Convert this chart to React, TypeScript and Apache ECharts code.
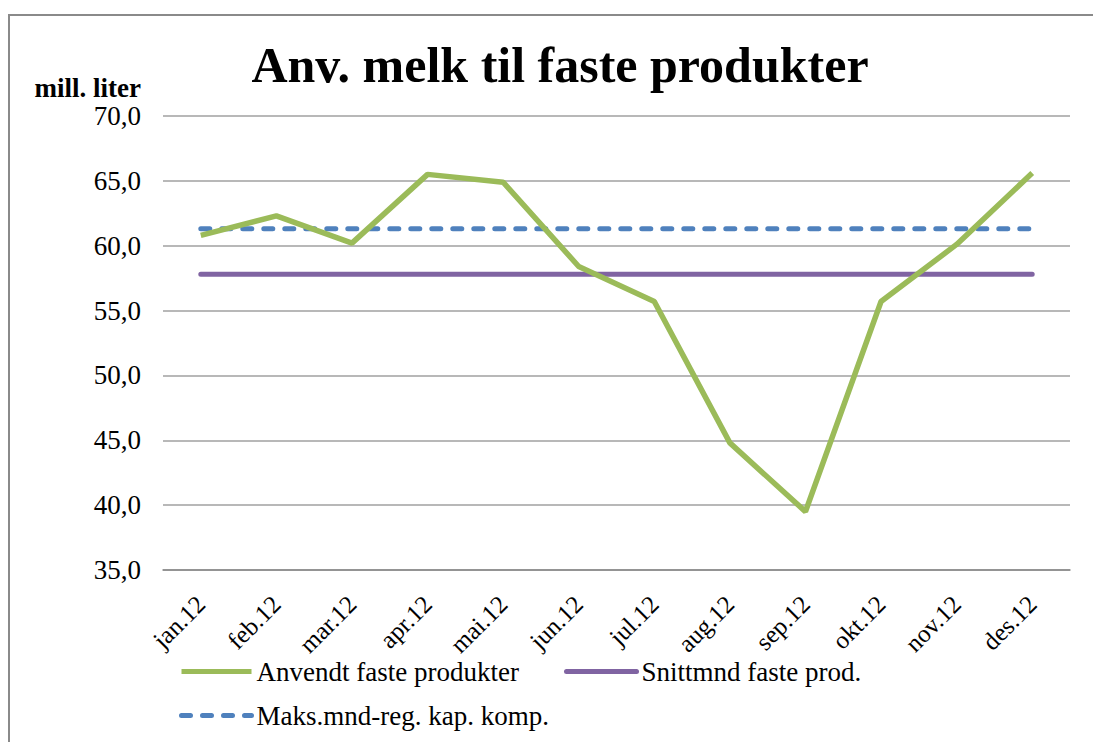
import React, { useEffect, useRef } from "react";
import * as echarts from "echarts";

const CATEGORIES = ["jan.12", "feb.12", "mar.12", "apr.12", "mai.12", "jun.12", "jul.12", "aug.12", "sep.12", "okt.12", "nov.12", "des.12"];
const ANVENDT = [60.8, 62.3, 60.2, 65.5, 64.9, 58.4, 55.7, 44.8, 39.5, 55.7, 60.1, 65.6];
const SNITT = [57.8, 57.8, 57.8, 57.8, 57.8, 57.8, 57.8, 57.8, 57.8, 57.8, 57.8, 57.8];
const MAKS = [61.3, 61.3, 61.3, 61.3, 61.3, 61.3, 61.3, 61.3, 61.3, 61.3, 61.3, 61.3];
const NAMES = ["Anvendt faste produkter", "Snittmnd faste prod.", "Maks.mnd-reg. kap. komp."];
const TITLE = "Anv. melk til faste produkter";
const UNIT = "mill. liter";

const SERIF = "'Liberation Serif', 'Times New Roman', serif";
const GREEN = "#9bbb59";
const PURPLE = "#8064a2";
const BLUE = "#4f81bd";
const DASH = [9, 12];

export default function App() {
  const ref = useRef<HTMLDivElement>(null);
  useEffect(() => {
    if (!ref.current) return;
    const chart = echarts.init(ref.current, undefined, { renderer: "svg" });
    const legendText = { fontFamily: SERIF, fontSize: 27, color: "#000" };
    const legendBase = {
      itemWidth: 70,
      itemHeight: 2,
      itemStyle: { opacity: 0 },
      textStyle: legendText,
    };
    chart.setOption({
      animation: false,
      backgroundColor: "#fff",
      title: {
        text: TITLE,
        left: 555,
        textAlign: "center",
        top: 35,
        textStyle: { fontFamily: SERIF, fontSize: 50, fontWeight: "bold", color: "#000" },
      },
      graphic: [
        {
          type: "rect",
          shape: { x: 1076, y: 16, width: 17, height: 726 },
          style: { fill: "#ffffff" },
          silent: true,
          z: 100,
        },
        {
          type: "rect",
          shape: { x: 8, y: 14, width: 1085, height: 2 },
          style: { fill: "#8a8a8a" },
          silent: true,
          z: 101,
        },
        {
          type: "rect",
          shape: { x: 8, y: 14, width: 2, height: 728 },
          style: { fill: "#8a8a8a" },
          silent: true,
        },
        {
          type: "text",
          style: {
            x: 141,
            y: 88,
            text: UNIT,
            font: `bold 27px ${SERIF}`,
            fill: "#000",
            align: "right",
            verticalAlign: "middle",
          },
        },
      ],
      legend: [
        { ...legendBase, data: [NAMES[0]], left: 174, top: 653, lineStyle: { width: 5, color: GREEN } },
        { ...legendBase, data: [NAMES[1]], left: 559, top: 653, lineStyle: { width: 5, color: PURPLE, cap: "round" } },
        { ...legendBase, data: [NAMES[2]], left: 174, top: 697, lineStyle: { width: 5, color: BLUE, type: DASH, cap: "round" } },
      ],
      grid: { left: 163, right: 23, top: 116, bottom: 172 },
      xAxis: {
        type: "category",
        data: CATEGORIES,
        boundaryGap: true,
        axisLine: { lineStyle: { color: "#888", width: 1.5 } },
        axisTick: { show: false },
        axisLabel: { rotate: 45, margin: 30, fontFamily: SERIF, fontSize: 25, color: "#000", interval: 0 },
      },
      yAxis: {
        type: "value",
        min: 35,
        max: 70,
        interval: 5,
        axisLine: { show: false },
        axisTick: { show: false },
        axisLabel: {
          margin: 22,
          fontFamily: SERIF,
          fontSize: 27,
          color: "#000",
          formatter: (v: number) => v.toFixed(1).replace(".", ","),
        },
        splitLine: { lineStyle: { color: "#a0a0a0", width: 1.5 } },
      },
      series: [
        {
          name: NAMES[0],
          type: "line",
          data: ANVENDT,
          symbol: "none",
          lineStyle: { color: GREEN, width: 5.5 },
          itemStyle: { color: GREEN },
          z: 3,
        },
        {
          name: NAMES[1],
          type: "line",
          data: SNITT,
          symbol: "none",
          lineStyle: { color: PURPLE, width: 5, cap: "round" },
          itemStyle: { color: PURPLE },
          z: 2,
        },
        {
          name: NAMES[2],
          type: "line",
          data: MAKS,
          symbol: "none",
          lineStyle: { color: BLUE, width: 5, type: DASH, cap: "round" },
          itemStyle: { color: BLUE },
          z: 2,
        },
      ],
    });
    return () => chart.dispose();
  }, []);
  return (
    <div
      ref={ref}
      style={{ position: "absolute", left: 0, top: 0, width: 1093, height: 742 }}
    />
  );
}
